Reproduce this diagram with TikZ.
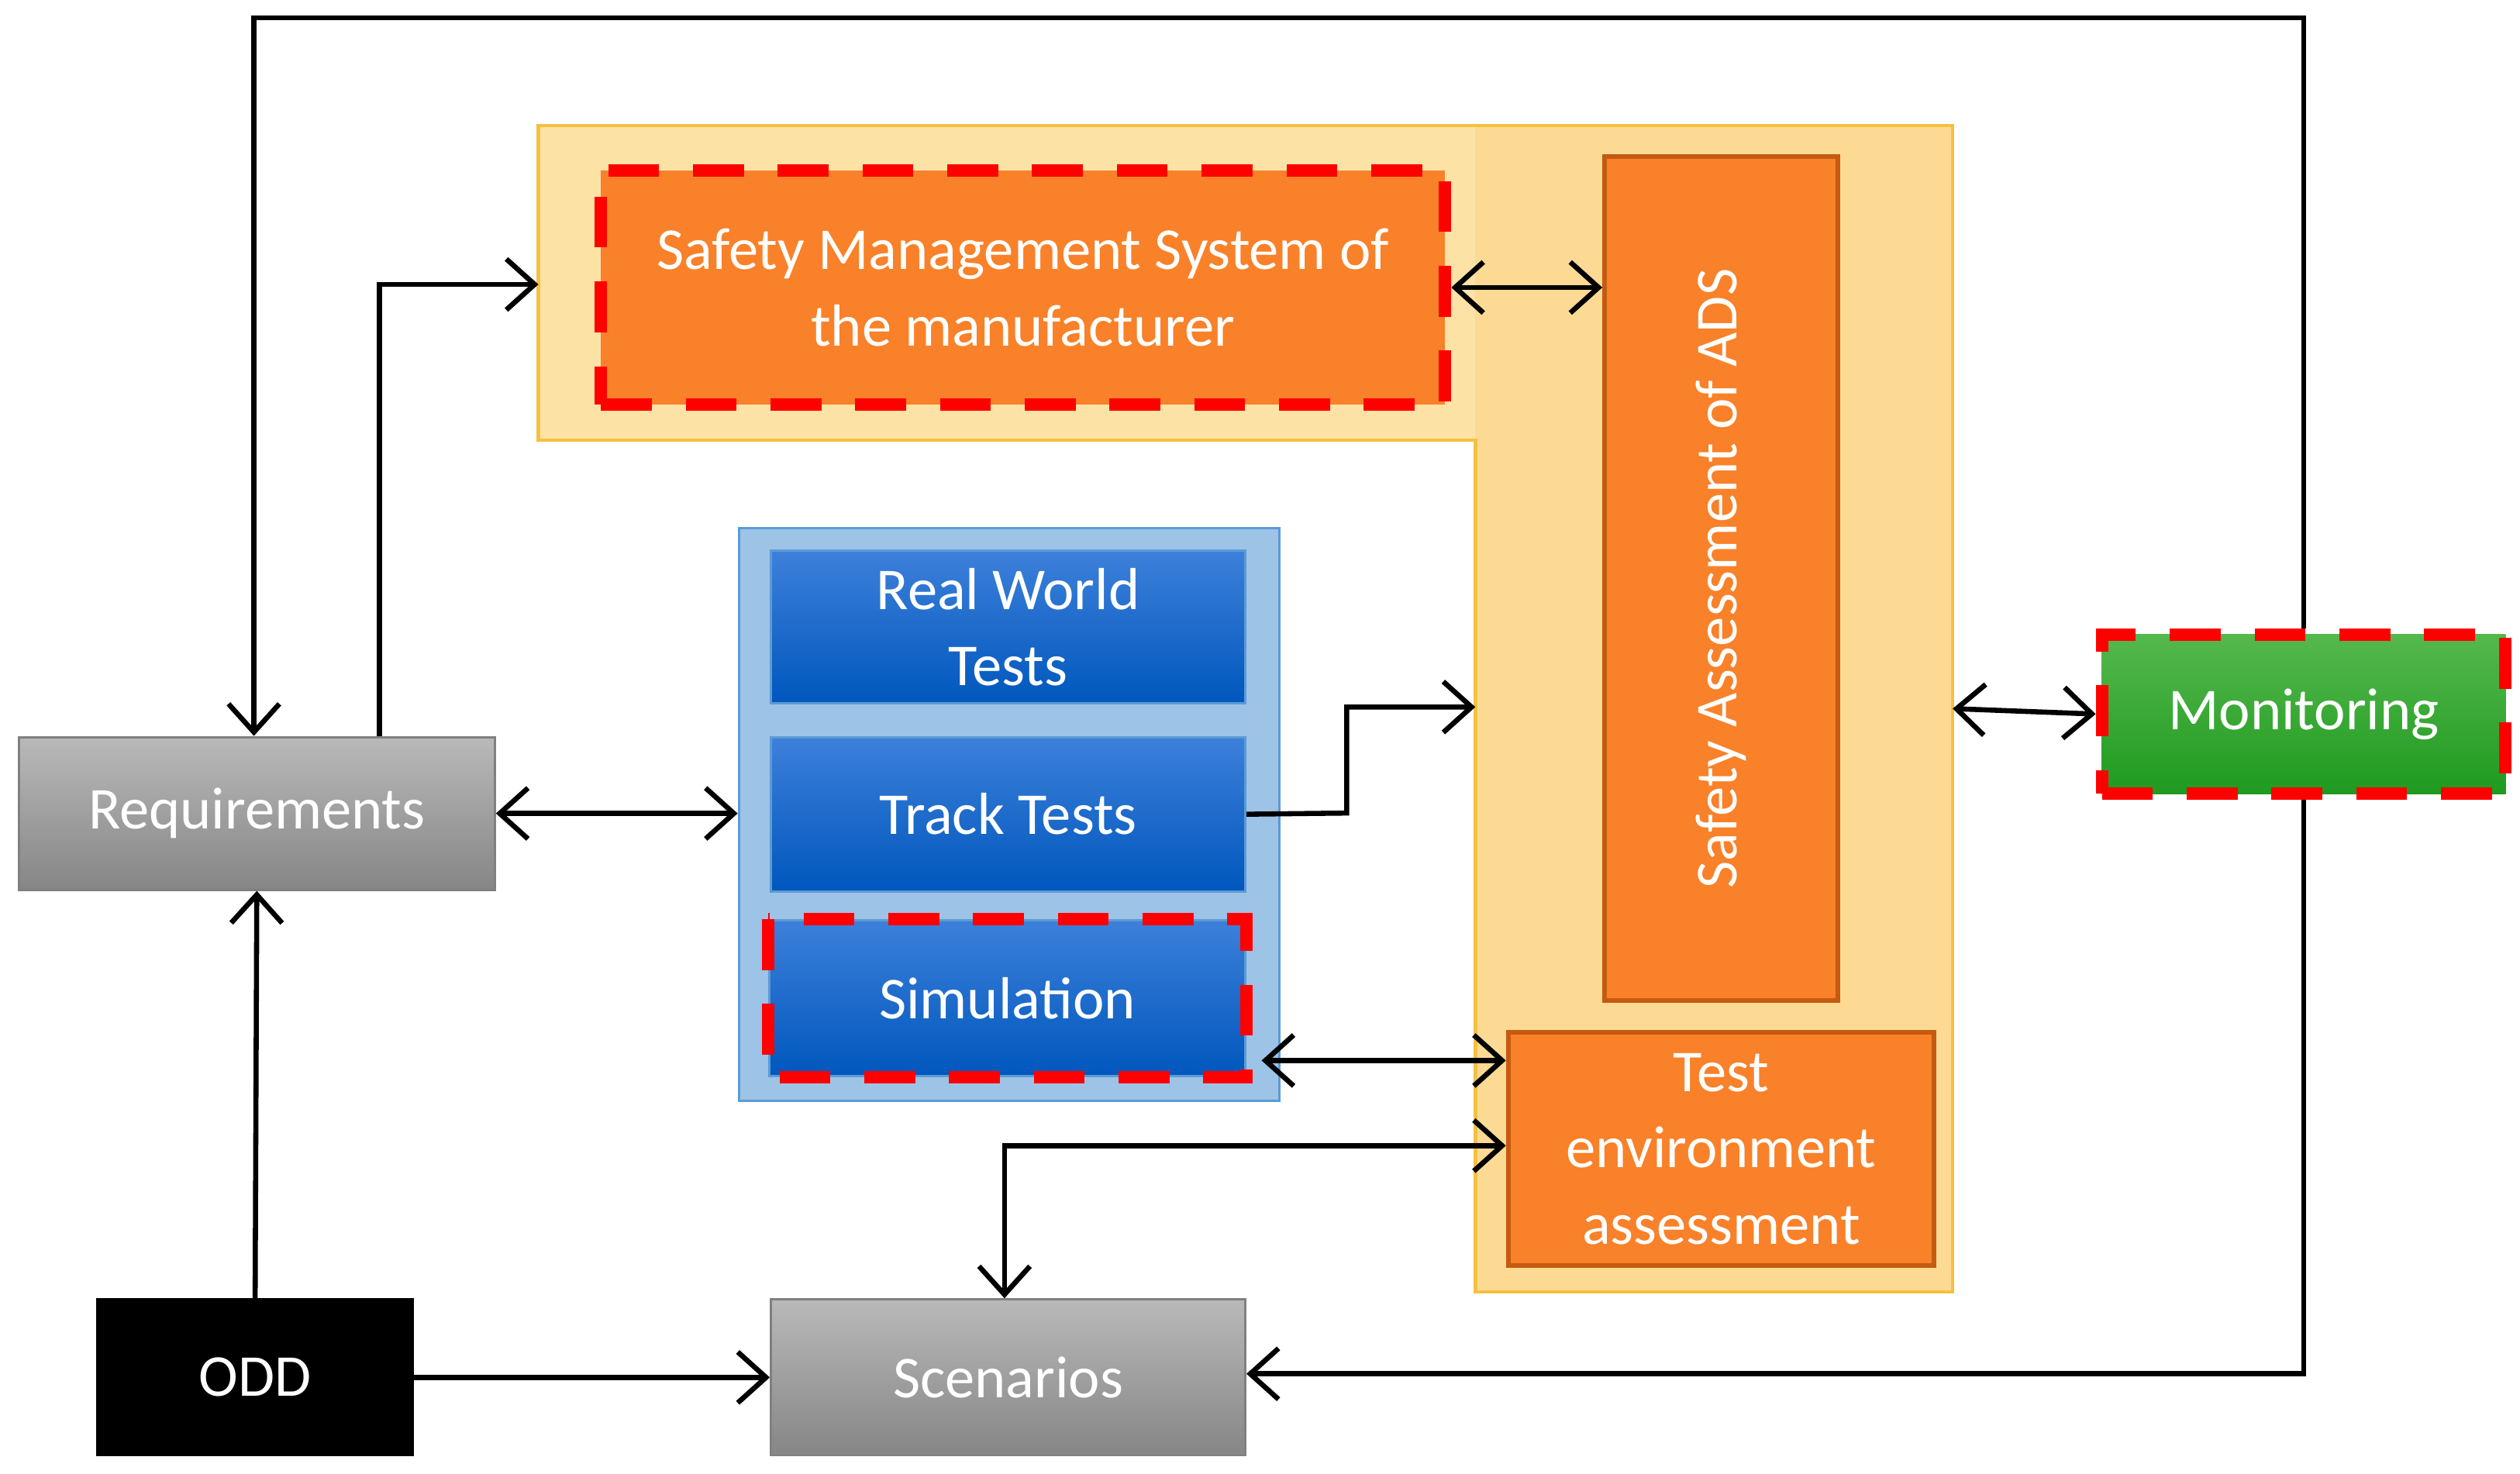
\documentclass[tikz,border=0pt]{standalone}
\usepackage{fontspec}
\setmainfont{Carlito}
\usetikzlibrary{arrows.meta,shadings}
\definecolor{lor}{HTML}{FDDA94}
\definecolor{lorL}{HTML}{FDE2A6}
\definecolor{lorb}{HTML}{F5C040}
\definecolor{org}{HTML}{F98129}
\definecolor{orgb}{HTML}{C55A11}
\definecolor{bcont}{HTML}{9DC3E6}
\definecolor{bcontb}{HTML}{5B9BD5}
\definecolor{btop}{HTML}{3D80DA}
\definecolor{bbot}{HTML}{0057BD}
\definecolor{gtop}{HTML}{55B84E}
\definecolor{gbot}{HTML}{1F9A1F}
\tikzset{
 box/.style={draw,minimum width=#1,align=center,text=white,font=\fontsize{10.5}{13.5}\selectfont,inner sep=0},
 reddash/.style={draw=red,line width=2.2pt,dash pattern=on 9pt off 6pt},
 bluebox/.style={top color=btop,bottom color=bbot,draw=bcontb},
 graybox/.style={top color=gray!55,bottom color=gray!95,draw=gray},
 ar/.style={line width=0.9pt,-{Straight Barb[length=5pt,width=9pt]}},
 dar/.style={line width=0.9pt,{Straight Barb[length=5pt,width=9pt]}-{Straight Barb[length=5pt,width=9pt]}},
}
\begin{document}
\begin{tikzpicture}[x=0.01cm,y=-0.01cm]
\useasboundingbox (0,0) rectangle (1568,917);
% light orange regions
\fill[lorL] (335,78) rectangle (918,274);
\fill[lor] (918,78) rectangle (1215,804);
\draw[lorb,line width=0.6pt] (335,78) -- (1215,78) -- (1215,804) -- (918,804) -- (918,274) -- (335,274) -- cycle;
% SMS
\node[box,fill=org,reddash,minimum width=5.25cm,minimum height=1.46cm,anchor=north west] (sms) at (370,102) {Safety Management System of\\the manufacturer};
\node[box,fill=org,draw=orgb,line width=0.8pt,minimum width=1.45cm,minimum height=5.25cm,anchor=north west] (sa) at (997,96) {};
\node[rotate=90,text=white,font=\fontsize{10.5}{13.5}\selectfont] at (sa.center) {Safety Assessment of ADS};
\node[box,fill=org,draw=orgb,line width=0.8pt,minimum width=2.65cm,minimum height=1.45cm,anchor=north west] (te) at (937,641) {Test\\environment\\assessment};
% blue container
\node[draw=bcontb,fill=bcont,minimum width=3.36cm,minimum height=3.56cm,anchor=north west,inner sep=0] (bc) at (459,328) {};
\node[box,bluebox,minimum width=2.95cm,minimum height=0.95cm,anchor=north west] (rw) at (479,342) {Real World\\Tests};
\node[box,bluebox,minimum width=2.95cm,minimum height=0.96cm,anchor=north west] (tt) at (479,458) {Track Tests};
\node[box,bluebox,minimum width=2.96cm,minimum height=0.97cm,anchor=north west] (sim) at (478,572) {Simulation};
\draw[reddash] (sim.north west) rectangle (sim.south east);
% gray/black
\node[box,graybox,minimum width=2.96cm,minimum height=0.95cm,anchor=north west] (req) at (11,458) {Requirements};
\node[box,fill=black,minimum width=1.96cm,minimum height=0.97cm,anchor=north west] (odd) at (60,808) {ODD};
\node[box,graybox,minimum width=2.95cm,minimum height=0.97cm,anchor=north west] (sc) at (479,808) {Scenarios};
\node[box,top color=gtop,bottom color=gbot,reddash,minimum width=2.51cm,minimum height=0.99cm,anchor=north west] (mon) at (1304,391) {Monitoring};
% coordinates
\coordinate (orgL) at (335,177);
\coordinate (orgM) at (918,440);
% connectors
\draw[ar] (mon.north) |- (158,11) -- (req.north -| 158,0);
\draw[ar] (req.north -| 236,0) |- (orgL);
\draw[dar] (sms.east) -- (sa.west |- sms.east);
\draw[dar] (req.east) -- (bc.west |- req.east);
\draw[ar] (tt.east) -- (838,506) |- (orgM);
\draw[dar] (785,660) -- (te.west |- 0,660);
\draw[dar] (sc.north -| 625,0) |- (te.west |- 0,713);
\draw[dar] (1215,441) -- (mon.west);
\draw[ar] (mon.south) |- (sc.east |- 0,855);
\draw[ar] (odd.north) -- (req.south);
\draw[ar] (odd.east) -- (sc.west |- odd.east);
\end{tikzpicture}
\end{document}
